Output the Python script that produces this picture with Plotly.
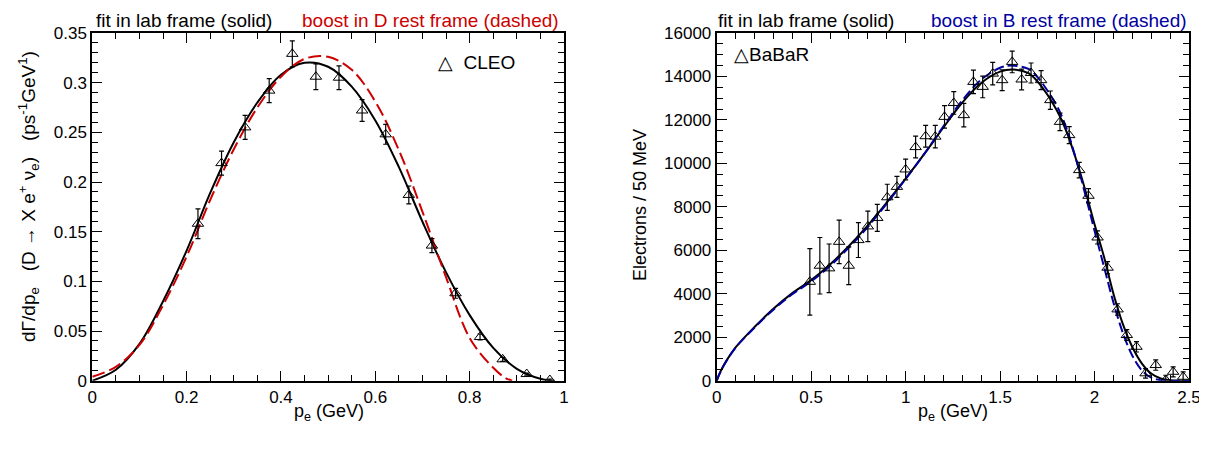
import plotly.graph_objects as go

# page offset of the plot div inside the browser body
OX, OY = 8, 8
W, H = 1207 - OX, 450 - OY

# ---------------- CLEO (left) ----------------
cleo_x = [0.224, 0.274, 0.324, 0.375, 0.424, 0.474, 0.523, 0.572, 0.622, 0.671,
          0.72, 0.77, 0.822, 0.87, 0.921, 0.97]
cleo_y = [0.158, 0.219, 0.255, 0.292, 0.329, 0.306, 0.305, 0.272, 0.248, 0.187,
          0.136, 0.088, 0.044, 0.0215, 0.0067, 0.0007]
cleo_err = [0.015, 0.012, 0.012, 0.012, 0.013, 0.013, 0.012, 0.011, 0.010, 0.009,
            0.007, 0.005, 0.003, 0.002, 0.001, 0.001]

lab_left_x = [0, 0.05, 0.1, 0.15, 0.2, 0.25, 0.3, 0.35, 0.4, 0.45, 0.5, 0.55,
              0.6, 0.65, 0.7, 0.75, 0.8, 0.85, 0.9, 0.95, 0.98]
lab_left_y = [0, 0.011, 0.037, 0.080, 0.131, 0.189, 0.240, 0.280, 0.308, 0.320,
              0.316, 0.296, 0.262, 0.215, 0.160, 0.109, 0.066, 0.033, 0.012, 0.002, 0]

boost_d_x = [0, 0.05, 0.1, 0.15, 0.2, 0.25, 0.3, 0.35, 0.4, 0.45, 0.5, 0.55,
             0.6, 0.65, 0.7, 0.75, 0.8, 0.85, 0.875, 0.89]
boost_d_y = [0.004, 0.014, 0.036, 0.076, 0.125, 0.182, 0.233, 0.275, 0.306, 0.324,
             0.326, 0.313, 0.281, 0.232, 0.170, 0.104, 0.043, 0.013, 0.003, 0]

# ---------------- BaBaR (right) ----------------
babar_x = [0.493, 0.546, 0.595, 0.648, 0.699, 0.75, 0.80, 0.85, 0.903, 0.954,
           1.0, 1.053, 1.106, 1.157, 1.206, 1.255, 1.308, 1.359, 1.408, 1.461,
           1.511, 1.564, 1.614, 1.664, 1.717, 1.766, 1.817, 1.866, 1.919, 1.968,
           2.016, 2.069, 2.122, 2.171, 2.222, 2.27, 2.324, 2.377, 2.416, 2.469]
babar_y = [4550, 5290, 5170, 6390, 5290, 6470, 7100, 7490, 8440, 8920,
           9720, 10750, 11250, 11230, 12140, 12780, 12220, 13750, 13520, 14130,
           13830, 14670, 13860, 14160, 13830, 12910, 11910, 11300, 9690, 8510,
           6590, 5200, 3280, 2100, 1560, 340, 720, 30, 410, 180]
babar_err = [1530, 1300, 1120, 1000, 870, 800, 700, 620, 600, 480,
             480, 500, 500, 520, 520, 520, 540, 540, 500, 520,
             480, 500, 480, 460, 440, 420, 400, 390, 360, 330,
             300, 280, 260, 250, 240, 220, 240, 220, 230, 230]

lab_right_x = [0, 0.02, 0.05, 0.1, 0.2, 0.3, 0.4, 0.5, 0.6, 0.7, 0.8, 0.9, 1.0,
               1.1, 1.2, 1.3, 1.4, 1.5, 1.57, 1.65, 1.7, 1.8, 1.85, 1.9, 1.95,
               2.0, 2.05, 2.1, 2.15, 2.2, 2.25, 2.3, 2.35, 2.4, 2.5]
lab_right_y = [0, 420, 900, 1530, 2470, 3310, 4030, 4630, 5350, 6200, 7150, 8200,
               9300, 10450, 11650, 12800, 13700, 14220, 14320, 14150, 13750, 12450,
               11500, 10250, 8800, 7200, 5700, 4000, 2600, 1550, 800, 330, 100, 20, 0]

boost_b_x = [0, 0.02, 0.05, 0.1, 0.2, 0.3, 0.4, 0.5, 0.6, 0.7, 0.8, 0.9, 1.0,
             1.1, 1.2, 1.3, 1.4, 1.5, 1.56, 1.65, 1.7, 1.8, 1.85, 1.9, 1.95,
             2.0, 2.05, 2.1, 2.15, 2.2, 2.25, 2.3, 2.35, 2.4, 2.5]
boost_b_y = [0, 410, 880, 1520, 2440, 3270, 3980, 4570, 5280, 6130, 7080, 8150,
             9280, 10450, 11700, 12900, 13850, 14400, 14500, 14350, 13950, 12650,
             11650, 10250, 8600, 6900, 5250, 3600, 2200, 1150, 480, 140, 20, 0, 0]

FONT = "Liberation Sans"
RED = "#cc0000"
BLUE = "#0000a0"

fig = go.Figure()

# left panel curves
fig.add_trace(go.Scatter(x=lab_left_x, y=lab_left_y, mode="lines", line_shape="spline",
                         line=dict(color="black", width=2), xaxis="x", yaxis="y",
                         showlegend=False, hoverinfo="skip"))
fig.add_trace(go.Scatter(x=boost_d_x, y=boost_d_y, mode="lines", line_shape="spline",
                         line=dict(color=RED, width=2, dash="13px,5px"), xaxis="x", yaxis="y",
                         showlegend=False, hoverinfo="skip"))
fig.add_trace(go.Scatter(x=cleo_x, y=cleo_y, mode="markers",
                         marker=dict(symbol="triangle-up-open", size=10, color="black",
                                     line=dict(width=1, color="black")),
                         error_y=dict(type="data", array=cleo_err, color="black",
                                      thickness=1.2, width=2.5),
                         xaxis="x", yaxis="y", showlegend=False))

# right panel curves
fig.add_trace(go.Scatter(x=lab_right_x, y=lab_right_y, mode="lines", line_shape="spline",
                         line=dict(color="black", width=2), xaxis="x2", yaxis="y2",
                         showlegend=False, hoverinfo="skip"))
fig.add_trace(go.Scatter(x=boost_b_x, y=boost_b_y, mode="lines", line_shape="spline",
                         line=dict(color=BLUE, width=2, dash="10px,4px"), xaxis="x2", yaxis="y2",
                         showlegend=False, hoverinfo="skip"))
fig.add_trace(go.Scatter(x=babar_x, y=babar_y, mode="markers",
                         marker=dict(symbol="triangle-up-open", size=10, color="black",
                                     line=dict(width=1, color="black")),
                         error_y=dict(type="data", array=babar_err, color="black",
                                      thickness=1.2, width=2.5),
                         xaxis="x2", yaxis="y2", showlegend=False))

tickfont = dict(family=FONT, size=17, color="black")


def axis(domain, rng, dtick, minor_dtick, anchor, fmt=None):
    d = dict(domain=domain, range=rng, anchor=anchor, tick0=0, dtick=dtick,
             automargin=False,
             ticks="inside", ticklen=10, tickwidth=1.2, tickcolor="black",
             mirror="allticks", showline=True, linewidth=2, linecolor="black",
             showgrid=False, zeroline=False, tickfont=tickfont,
             minor=dict(dtick=minor_dtick, tick0=0, ticks="inside", ticklen=6,
                        tickwidth=1.2, tickcolor="black", showgrid=False))
    if fmt:
        d["tickformat"] = fmt
    return d


def fx(px):
    return (px - OX) / W


def fy(py):
    return 1 - (py - OY) / H


ydom = [fy(380.7), fy(33)]
fig.update_layout(
    width=W, height=H,
    margin=dict(l=0, r=0, t=0, b=0, autoexpand=False),
    paper_bgcolor="white", plot_bgcolor="white",
    font=dict(family=FONT, color="black"),
    xaxis=axis([fx(92.3), fx(564)], [0, 1], 0.2, 0.05, "y"),
    yaxis=axis(ydom, [0, 0.35], 0.05, 0.01, "x"),
    xaxis2=axis([fx(716.7), fx(1189)], [0, 2.5], 0.5, 0.1, "y2"),
    yaxis2=axis(ydom, [0, 16000], 2000, 500, "x2", fmt="d"),
)


def ann(text, x, y, xanchor="center", yanchor="middle", color="black", size=18, angle=0):
    fig.add_annotation(text=text, x=fx(x), y=fy(y), xref="paper", yref="paper",
                       xanchor=xanchor, yanchor=yanchor, showarrow=False, textangle=angle,
                       font=dict(family=FONT, size=size, color=color))


NB = "\u00a0"
# headers
ann("fit in lab frame (solid)", 94, 20, xanchor="left", size=19)
ann("boost in D rest frame (dashed)", 561, 20, xanchor="right", color=RED, size=19)
ann("fit in lab frame (solid)", 716, 20, xanchor="left", size=19)
ann("boost in B rest frame (dashed)", 1189, 20, xanchor="right", color=BLUE, size=19)

# legends
ann("△" + NB + NB + "CLEO", 476, 62, size=19)
ann("△BaBaR", 771, 55, size=19)

# axis titles
ann("p<sub>e</sub> (GeV)", 329, 412, size=18)
ann("p<sub>e</sub> (GeV)", 953, 412, size=18)
ann("dΓ/dp<sub>e</sub>" + NB * 3 + "(D → X e<sup>+</sup> ν<sub>e</sub>)" + NB * 3
    + "(ps<sup>-1</sup>GeV<sup>1</sup>)",
    28, 197, size=19, angle=-90)
ann("Electrons / 50 MeV", 640, 205, size=18, angle=-90)

fig.write_html("out.html")
